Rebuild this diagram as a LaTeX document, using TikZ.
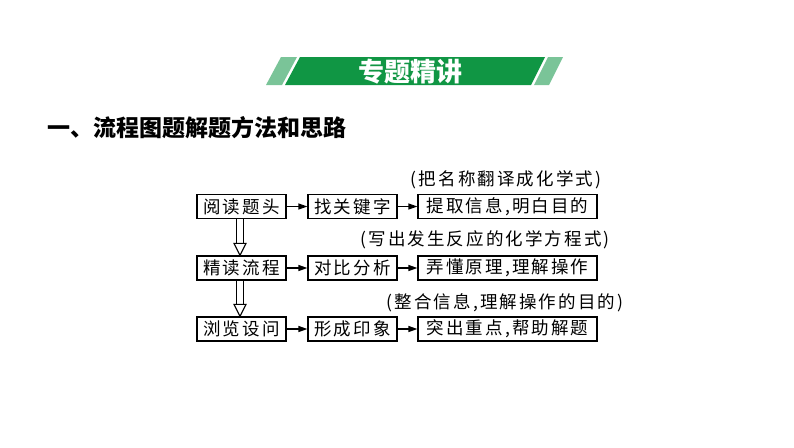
\documentclass[tikz,border=0pt]{standalone}
\usepackage{fontspec}
\usetikzlibrary{arrows.meta,calc}
\newfontfamily\cjk{Noto Sans CJK SC}
\newfontfamily\cjkls[LetterSpace=12]{Noto Sans CJK SC}
\definecolor{darkg}{RGB}{16,150,68}
\definecolor{lightg}{RGB}{122,196,152}
\tikzset{
  boxstyle/.style={draw, line width=1.2pt, minimum height=24pt, inner sep=0pt, font=\cjkls\fontsize{17.5}{20}\selectfont},
  annstyle/.style={inner sep=0pt, font=\cjkls\fontsize{17.5}{20}\selectfont},
  harrow/.style={line width=1.2pt, -{Triangle[length=9pt,width=6pt]}},
  dshaft/.style={line width=1.1pt},
  dhead/.style={line width=1.1pt, fill=white, line join=miter}
}
\begin{document}
\begin{tikzpicture}[x=1pt,y=-1pt]
\useasboundingbox (0,0) rectangle (794,447);
% banner
\fill[lightg] (281,57) -- (297,57) -- (282,85) -- (266,85) -- cycle;
\fill[darkg] (300,57) -- (545,57) -- (531,85) -- (285,85) -- cycle;
\fill[lightg] (548,57) -- (563,57) -- (549,85) -- (534,85) -- cycle;
\node[text=white, font=\cjk\bfseries\fontsize{26}{30}\selectfont] (title) at (410,72) {专题精讲};
% heading
\node[anchor=west, inner sep=0pt, font=\cjk\bfseries\fontsize{23}{26}\selectfont] (head) at (47,128) {一、流程图题解题方法和思路};
% boxes
\node[boxstyle, minimum width=89pt] (a1) at (241.5,206.5) {阅读题头};
\node[boxstyle, minimum width=89pt] (a2) at (352.5,206.5) {找关键字};
\node[boxstyle, minimum width=179pt] (a3) at (507.5,206.5) {提取信息,明白目的};
\node[boxstyle, minimum width=89pt] (b1) at (241.5,268) {精读流程};
\node[boxstyle, minimum width=89pt] (b2) at (352.5,268) {对比分析};
\node[boxstyle, minimum width=179pt] (b3) at (507.5,268) {弄懂原理,理解操作};
\node[boxstyle, minimum width=89pt] (c1) at (241.5,329) {浏览设问};
\node[boxstyle, minimum width=89pt] (c2) at (352.5,329) {形成印象};
\node[boxstyle, minimum width=179pt] (c3) at (507.5,329) {突出重点,帮助解题};
% annotations
\node[annstyle] (n1) at (506,180) {(把名称翻译成化学式)};
\node[annstyle] (n2) at (485,240) {(写出发生反应的化学方程式)};
\node[annstyle] (n3) at (505,303) {(整合信息,理解操作的目的)};
% horizontal arrows
\draw[harrow] (a1.east) -- (a2.west);
\draw[harrow] (a2.east) -- (a3.west);
\draw[harrow] (b1.east) -- (b2.west);
\draw[harrow] (b2.east) -- (b3.west);
\draw[harrow] (c1.east) -- (c2.west);
\draw[harrow] (c2.east) -- (c3.west);
% double arrows
\foreach \u/\v in {a1/b1, b1/c1} {
  \draw[dshaft] ($(\u.south)+(-4.8,0)$) -- ($(\v.north)+(-4.8,-12)$);
  \draw[dshaft] ($(\u.south)+(1.8,0)$) -- ($(\v.north)+(1.8,-12)$);
  \draw[dhead] ($(\v.north)+(-7.5,-12)$) -- ($(\v.north)+(4.5,-12)$) -- ($(\v.north)+(-1.5,0)$) -- cycle;
}
\end{tikzpicture}
\end{document}
